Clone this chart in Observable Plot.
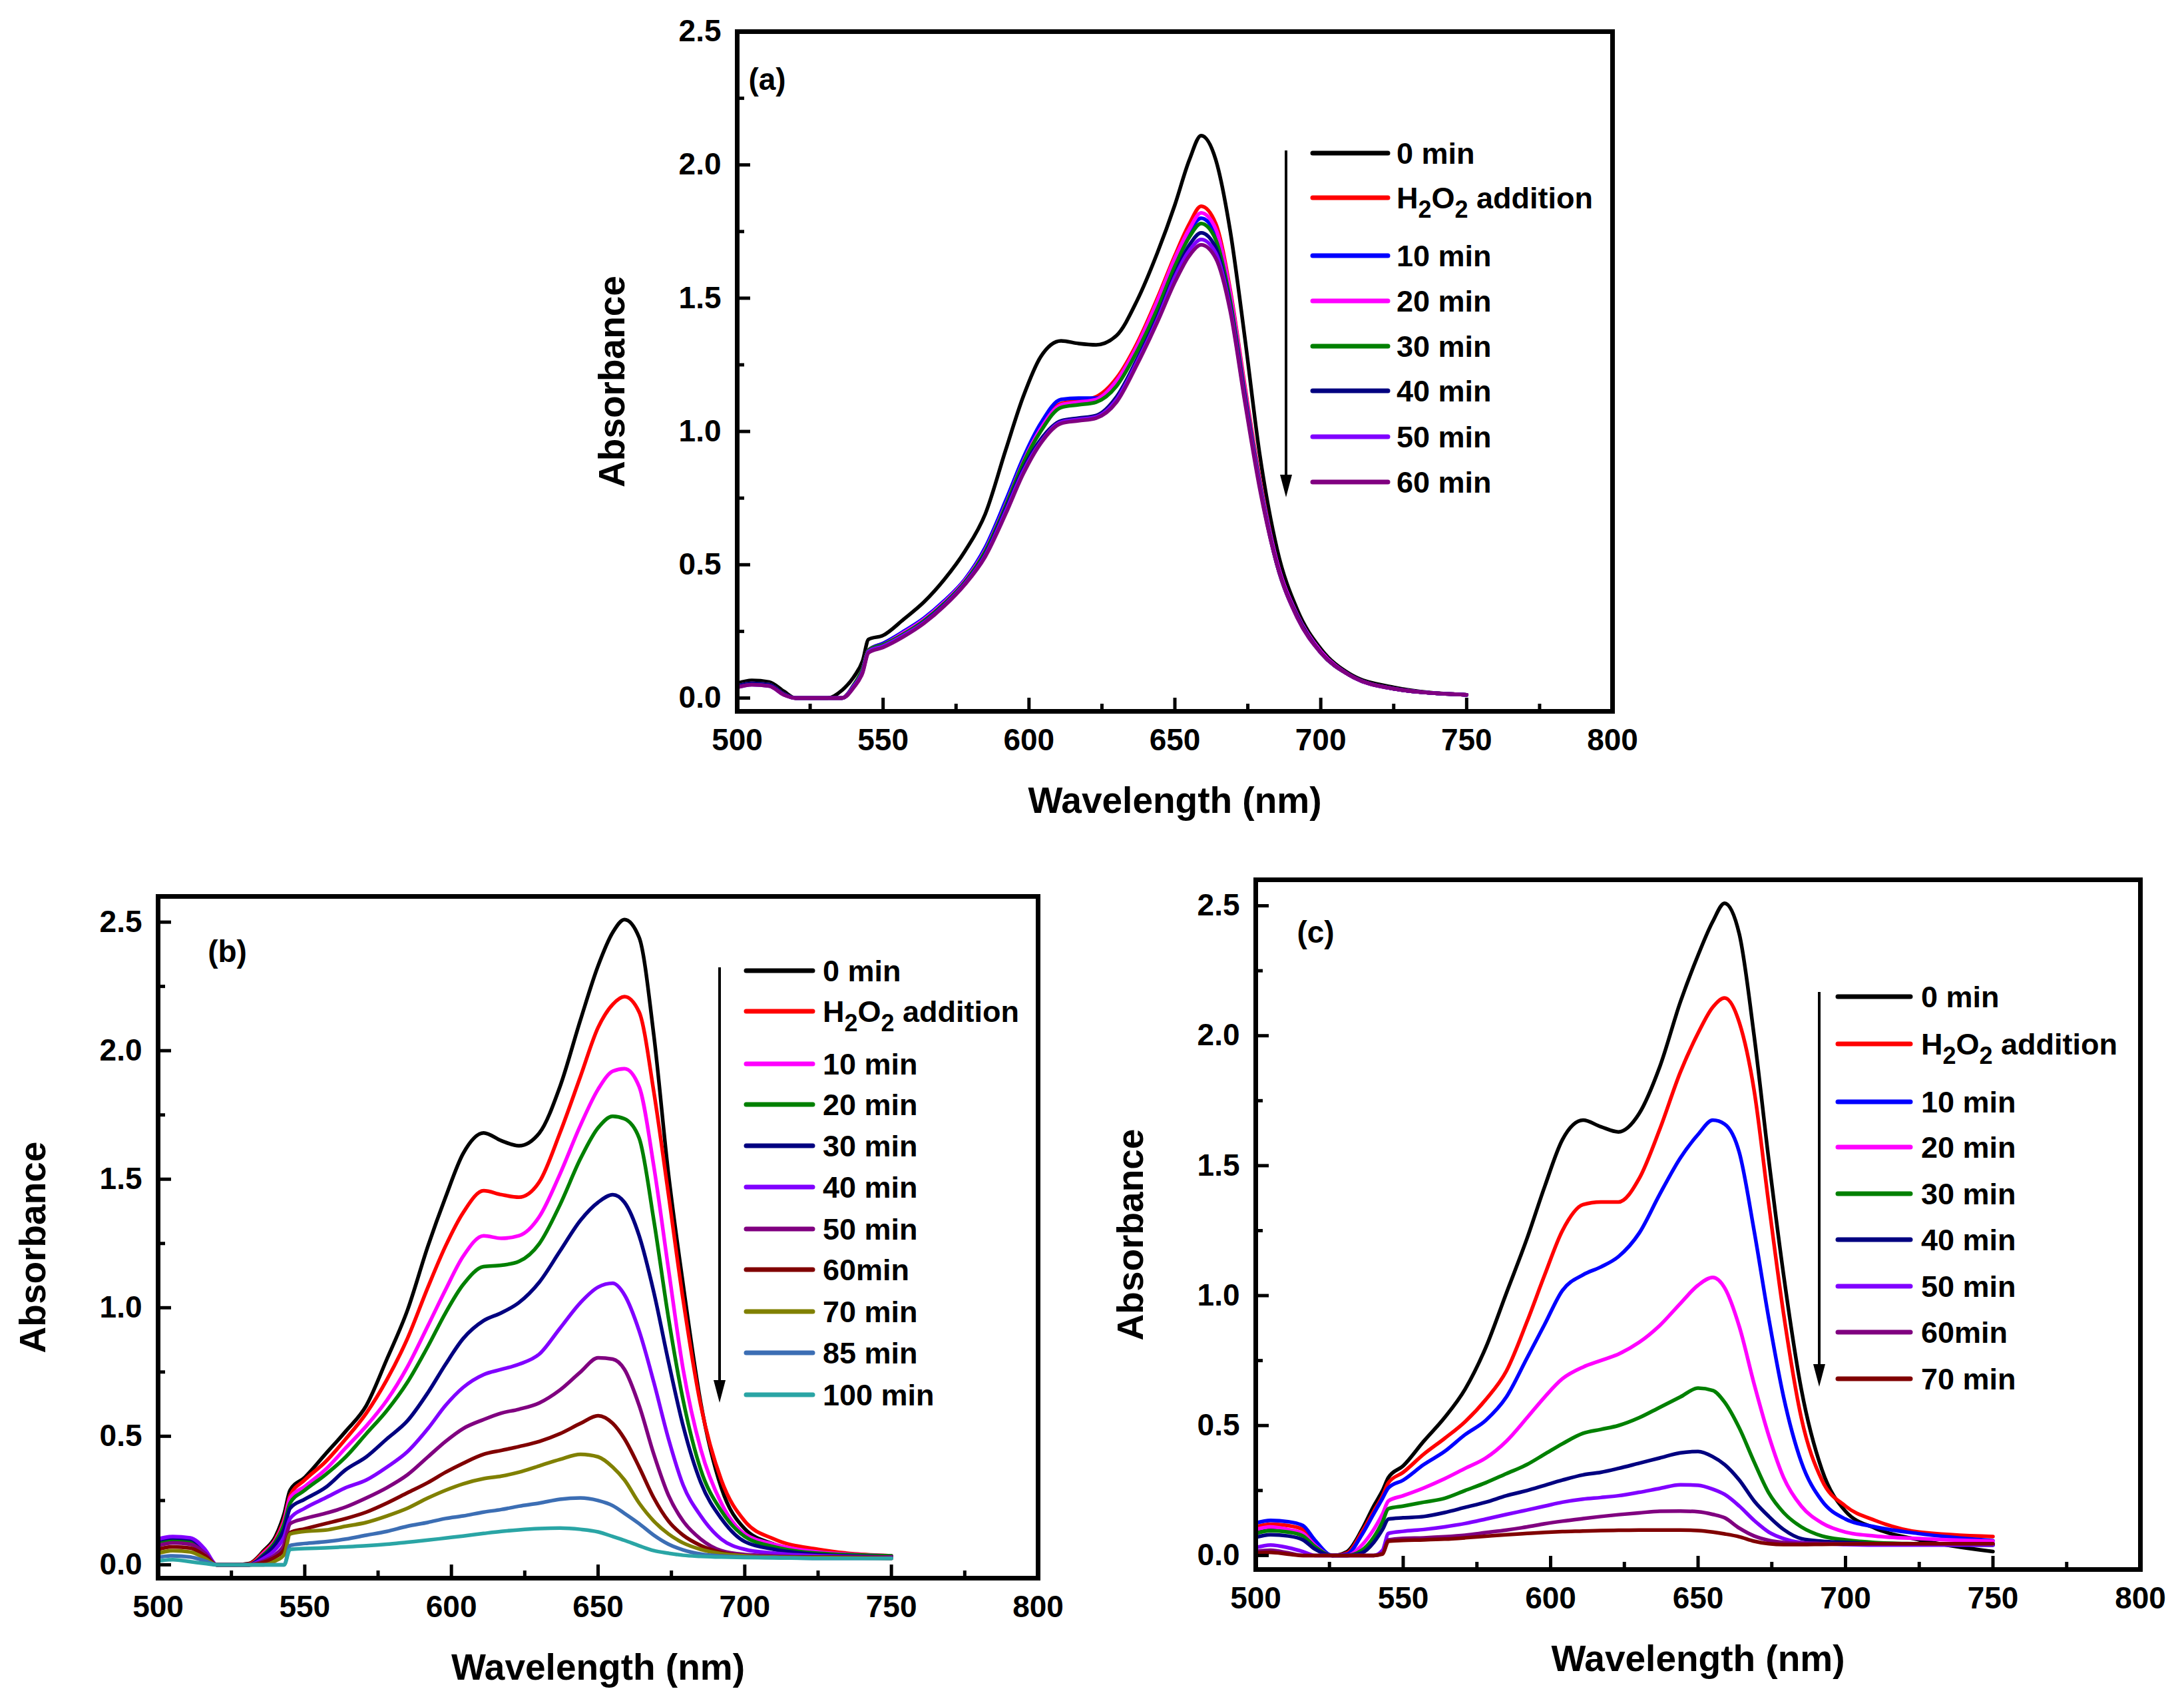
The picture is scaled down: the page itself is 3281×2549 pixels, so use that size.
<!DOCTYPE html>
<html>
<head>
<meta charset="utf-8">
<script src="https://cdn.jsdelivr.net/npm/d3@7"></script>
<script src="https://cdn.jsdelivr.net/npm/@observablehq/plot@0.6"></script>
<style>
html, body { margin: 0; padding: 0; background: #fff; }
#fig { position: relative; width: 3281px; height: 2549px; background: #fff; overflow: hidden; }
</style>
</head>
<body>
<div id="fig"></div>
<script>
// ---------- data ----------
const wavelength = [500, 505, 511, 516, 520, 526, 531, 536, 540, 543, 545, 550, 557, 564, 571, 578, 585, 592, 598, 604, 611, 617, 623, 630, 637, 644, 650, 655, 659, 664, 669, 674, 679, 685, 692, 700, 710, 725, 750];

const xTicks = [500, 550, 600, 650, 700, 750, 800];
const xMinorTicks = [525, 575, 625, 675, 725, 775];
const yTicks = [0, 0.5, 1.0, 1.5, 2.0, 2.5];
const yMinorTicks = [0.25, 0.75, 1.25, 1.75, 2.25];

// panel (a)
const namesA = ["0 min", "H2O2 addition", "10 min", "20 min", "30 min", "40 min", "50 min", "60 min"];
const colorsA = ["#000000", "#ff0000", "#0000ff", "#ff00ff", "#008000", "#000080", "#8000ff", "#800080"];
const a0     = [0.055, 0.066, 0.06, 0.025, 0, 0, 0, 0.03, 0.08, 0.14, 0.22, 0.235, 0.295, 0.36, 0.445, 0.55, 0.69, 0.93, 1.13, 1.28, 1.34, 1.33, 1.325, 1.36, 1.49, 1.67, 1.85, 2.02, 2.11, 2.02, 1.75, 1.35, 0.92, 0.56, 0.33, 0.185, 0.09, 0.04, 0.012];
const aH2O2  = [0.045, 0.055, 0.05, 0.015, 0, 0, 0, 0, 0.05, 0.11, 0.18, 0.205, 0.245, 0.295, 0.36, 0.44, 0.56, 0.73, 0.89, 1.02, 1.105, 1.115, 1.13, 1.2, 1.33, 1.5, 1.66, 1.78, 1.845, 1.78, 1.53, 1.17, 0.83, 0.51, 0.31, 0.175, 0.085, 0.035, 0.012];
const a10    = [0.045, 0.055, 0.05, 0.015, 0, 0, 0, 0, 0.05, 0.11, 0.18, 0.205, 0.25, 0.3, 0.365, 0.445, 0.565, 0.74, 0.9, 1.03, 1.12, 1.125, 1.125, 1.19, 1.31, 1.48, 1.64, 1.75, 1.8, 1.74, 1.5, 1.15, 0.82, 0.51, 0.31, 0.175, 0.085, 0.035, 0.012];
const a20    = [0.045, 0.055, 0.05, 0.015, 0, 0, 0, 0, 0.05, 0.11, 0.18, 0.2, 0.245, 0.295, 0.36, 0.44, 0.555, 0.725, 0.885, 1.01, 1.1, 1.11, 1.12, 1.19, 1.32, 1.49, 1.65, 1.76, 1.82, 1.76, 1.52, 1.16, 0.82, 0.51, 0.31, 0.175, 0.085, 0.035, 0.012];
const a30    = [0.045, 0.055, 0.05, 0.015, 0, 0, 0, 0, 0.05, 0.11, 0.18, 0.2, 0.24, 0.29, 0.355, 0.435, 0.55, 0.72, 0.88, 1.0, 1.09, 1.1, 1.11, 1.17, 1.3, 1.46, 1.62, 1.73, 1.78, 1.72, 1.49, 1.14, 0.81, 0.5, 0.305, 0.17, 0.085, 0.035, 0.012];
const a40    = [0.045, 0.055, 0.05, 0.015, 0, 0, 0, 0, 0.045, 0.1, 0.175, 0.195, 0.235, 0.285, 0.35, 0.43, 0.54, 0.71, 0.86, 0.97, 1.04, 1.05, 1.06, 1.13, 1.27, 1.43, 1.59, 1.7, 1.745, 1.69, 1.47, 1.13, 0.8, 0.5, 0.305, 0.17, 0.085, 0.035, 0.012];
const a50    = [0.04, 0.05, 0.045, 0.012, 0, 0, 0, 0, 0.045, 0.1, 0.175, 0.195, 0.235, 0.283, 0.348, 0.428, 0.535, 0.7, 0.85, 0.96, 1.035, 1.045, 1.055, 1.12, 1.26, 1.42, 1.58, 1.68, 1.72, 1.67, 1.46, 1.12, 0.8, 0.5, 0.3, 0.17, 0.085, 0.035, 0.012];
const a60    = [0.04, 0.05, 0.045, 0.012, 0, 0, 0, 0, 0.04, 0.095, 0.17, 0.19, 0.23, 0.28, 0.345, 0.425, 0.53, 0.69, 0.84, 0.955, 1.03, 1.04, 1.05, 1.11, 1.25, 1.41, 1.56, 1.66, 1.7, 1.65, 1.45, 1.11, 0.79, 0.5, 0.3, 0.17, 0.085, 0.035, 0.012];

// panel (b)
const namesB = ["0 min", "H2O2 addition", "10 min", "20 min", "30 min", "40 min", "50 min", "60min", "70 min", "85 min", "100 min"];
const colorsB = ["#000000", "#ff0000", "#ff00ff", "#008000", "#000080", "#8000ff", "#800080", "#800000", "#808000", "#3c6eb4", "#2aa5a5"];
const b0     = [0.085, 0.095, 0.09, 0.05, 0, 0, 0.005, 0.055, 0.11, 0.2, 0.29, 0.34, 0.43, 0.52, 0.62, 0.8, 0.99, 1.24, 1.43, 1.6, 1.68, 1.65, 1.63, 1.68, 1.86, 2.12, 2.33, 2.46, 2.51, 2.44, 2.06, 1.52, 1.09, 0.63, 0.3, 0.14, 0.08, 0.045, 0.03];
const bH2O2  = [0.085, 0.095, 0.09, 0.05, 0, 0, 0.003, 0.05, 0.1, 0.18, 0.27, 0.33, 0.4, 0.49, 0.59, 0.72, 0.88, 1.08, 1.24, 1.37, 1.455, 1.44, 1.43, 1.49, 1.68, 1.9, 2.09, 2.18, 2.21, 2.15, 1.84, 1.44, 1.03, 0.62, 0.33, 0.17, 0.1, 0.06, 0.035];
const b10    = [0.09, 0.1, 0.095, 0.055, 0, 0, 0, 0.045, 0.095, 0.17, 0.26, 0.305, 0.37, 0.455, 0.54, 0.64, 0.77, 0.93, 1.07, 1.2, 1.28, 1.27, 1.28, 1.355, 1.52, 1.71, 1.85, 1.92, 1.93, 1.86, 1.55, 1.15, 0.76, 0.45, 0.24, 0.12, 0.08, 0.05, 0.035];
const b20    = [0.085, 0.095, 0.09, 0.05, 0, 0, 0, 0.04, 0.09, 0.16, 0.24, 0.29, 0.35, 0.42, 0.51, 0.6, 0.71, 0.85, 0.98, 1.09, 1.16, 1.165, 1.18, 1.25, 1.4, 1.58, 1.7, 1.745, 1.735, 1.66, 1.34, 0.96, 0.64, 0.37, 0.21, 0.11, 0.07, 0.045, 0.035];
const b30    = [0.095, 0.105, 0.1, 0.055, 0, 0, 0, 0.035, 0.08, 0.14, 0.22, 0.255, 0.3, 0.37, 0.42, 0.49, 0.56, 0.67, 0.78, 0.88, 0.95, 0.98, 1.02, 1.1, 1.22, 1.34, 1.41, 1.44, 1.41, 1.28, 1.06, 0.79, 0.54, 0.32, 0.18, 0.09, 0.06, 0.04, 0.03];
const b40    = [0.1, 0.11, 0.105, 0.06, 0, 0, 0, 0.025, 0.06, 0.11, 0.18, 0.22, 0.26, 0.3, 0.33, 0.38, 0.44, 0.53, 0.62, 0.69, 0.74, 0.76, 0.78, 0.82, 0.92, 1.02, 1.08, 1.095, 1.05, 0.91, 0.71, 0.49, 0.31, 0.19, 0.1, 0.06, 0.045, 0.035, 0.03];
const b50    = [0.075, 0.085, 0.08, 0.045, 0, 0, 0, 0.015, 0.04, 0.08, 0.16, 0.18, 0.2, 0.225, 0.26, 0.3, 0.35, 0.42, 0.48, 0.53, 0.565, 0.59, 0.605, 0.63, 0.68, 0.75, 0.805, 0.8, 0.76, 0.62, 0.43, 0.27, 0.17, 0.1, 0.055, 0.04, 0.035, 0.03, 0.03];
const b60    = [0.06, 0.07, 0.065, 0.035, 0, 0, 0, 0.01, 0.03, 0.06, 0.125, 0.14, 0.16, 0.18, 0.205, 0.24, 0.28, 0.32, 0.36, 0.395, 0.43, 0.445, 0.46, 0.48, 0.51, 0.55, 0.58, 0.55, 0.49, 0.38, 0.26, 0.17, 0.115, 0.075, 0.048, 0.035, 0.03, 0.03, 0.025];
const b70    = [0.045, 0.055, 0.05, 0.025, 0, 0, 0, 0, 0.015, 0.04, 0.12, 0.13, 0.135, 0.15, 0.165, 0.19, 0.22, 0.26, 0.29, 0.315, 0.335, 0.345, 0.36, 0.385, 0.41, 0.43, 0.42, 0.38, 0.33, 0.24, 0.17, 0.12, 0.085, 0.06, 0.043, 0.035, 0.03, 0.028, 0.025];
const b85    = [0.03, 0.035, 0.03, 0.015, 0, 0, 0, 0, 0, 0, 0.075, 0.083, 0.09, 0.1, 0.115, 0.13, 0.15, 0.165, 0.18, 0.19, 0.205, 0.215, 0.228, 0.24, 0.255, 0.26, 0.25, 0.23, 0.2, 0.16, 0.115, 0.08, 0.058, 0.042, 0.034, 0.03, 0.028, 0.025, 0.025];
const b100   = [0.015, 0.02, 0.012, 0.005, 0, 0, 0, 0, 0, 0, 0.06, 0.063, 0.066, 0.07, 0.074, 0.08, 0.088, 0.096, 0.104, 0.112, 0.122, 0.13, 0.136, 0.141, 0.143, 0.138, 0.128, 0.11, 0.095, 0.074, 0.055, 0.045, 0.037, 0.033, 0.03, 0.028, 0.027, 0.025, 0.025];

// panel (c)
const namesC = ["0 min", "H2O2 addition", "10 min", "20 min", "30 min", "40 min", "50 min", "60min", "70 min"];
const colorsC = ["#000000", "#ff0000", "#0000ff", "#ff00ff", "#008000", "#000080", "#8000ff", "#800080", "#800000"];
const c0     = [0.09, 0.1, 0.095, 0.08, 0.04, 0, 0.015, 0.1, 0.19, 0.25, 0.3, 0.345, 0.44, 0.53, 0.64, 0.8, 1.01, 1.22, 1.42, 1.6, 1.675, 1.65, 1.63, 1.7, 1.88, 2.13, 2.31, 2.44, 2.51, 2.39, 2.0, 1.52, 1.08, 0.64, 0.33, 0.17, 0.105, 0.06, 0.015];
const cH2O2  = [0.11, 0.12, 0.115, 0.1, 0.05, 0, 0.01, 0.09, 0.17, 0.23, 0.28, 0.32, 0.39, 0.45, 0.515, 0.6, 0.71, 0.9, 1.08, 1.25, 1.35, 1.36, 1.36, 1.45, 1.64, 1.86, 2.01, 2.11, 2.145, 2.05, 1.79, 1.35, 0.93, 0.53, 0.29, 0.19, 0.135, 0.09, 0.073];
const c10    = [0.125, 0.135, 0.13, 0.115, 0.06, 0, 0.005, 0.08, 0.16, 0.22, 0.26, 0.29, 0.35, 0.4, 0.465, 0.52, 0.61, 0.76, 0.89, 1.02, 1.08, 1.11, 1.15, 1.24, 1.39, 1.53, 1.62, 1.675, 1.66, 1.55, 1.25, 0.91, 0.61, 0.36, 0.21, 0.14, 0.11, 0.084, 0.057];
const c20    = [0.1, 0.11, 0.1, 0.085, 0.04, 0, 0, 0.04, 0.1, 0.16, 0.21, 0.23, 0.26, 0.295, 0.335, 0.375, 0.44, 0.53, 0.61, 0.68, 0.725, 0.75, 0.775, 0.82, 0.885, 0.97, 1.04, 1.07, 1.03, 0.88, 0.66, 0.46, 0.3, 0.19, 0.125, 0.09, 0.075, 0.065, 0.055];
const c30    = [0.085, 0.095, 0.09, 0.075, 0.035, 0, 0, 0.02, 0.07, 0.13, 0.18, 0.19, 0.205, 0.22, 0.25, 0.28, 0.315, 0.35, 0.39, 0.43, 0.47, 0.485, 0.5, 0.53, 0.57, 0.61, 0.644, 0.635, 0.59, 0.49, 0.36, 0.24, 0.165, 0.11, 0.075, 0.06, 0.05, 0.045, 0.04];
const c40    = [0.07, 0.08, 0.075, 0.06, 0.025, 0, 0, 0.01, 0.05, 0.1, 0.14, 0.145, 0.15, 0.165, 0.185, 0.205, 0.23, 0.25, 0.27, 0.29, 0.31, 0.32, 0.335, 0.355, 0.375, 0.395, 0.4, 0.38, 0.35, 0.29, 0.21, 0.15, 0.1, 0.065, 0.055, 0.05, 0.045, 0.042, 0.04];
const c50    = [0.03, 0.04, 0.03, 0.015, 0, 0, 0, 0, 0, 0.02, 0.085, 0.093, 0.1, 0.11, 0.123, 0.14, 0.158, 0.175, 0.19, 0.205, 0.217, 0.223, 0.23, 0.243, 0.258, 0.272, 0.27, 0.255, 0.235, 0.19, 0.135, 0.09, 0.065, 0.05, 0.045, 0.042, 0.04, 0.04, 0.04];
const c60    = [0.015, 0.02, 0.01, 0, 0, 0, 0, 0, 0, 0.01, 0.06, 0.066, 0.068, 0.072, 0.078, 0.088, 0.098, 0.11, 0.122, 0.132, 0.142, 0.15, 0.157, 0.164, 0.17, 0.171, 0.168, 0.158, 0.145, 0.105, 0.075, 0.058, 0.05, 0.047, 0.046, 0.045, 0.045, 0.045, 0.045];
const c70    = [0.01, 0.012, 0.005, 0, 0, 0, 0, 0, 0, 0.005, 0.055, 0.058, 0.06, 0.063, 0.068, 0.074, 0.08, 0.085, 0.089, 0.092, 0.094, 0.096, 0.097, 0.098, 0.098, 0.098, 0.096, 0.09, 0.083, 0.072, 0.055, 0.045, 0.042, 0.042, 0.043, 0.044, 0.045, 0.045, 0.045];

const xTitle = "Wavelength (nm)";
const yTitle = "Absorbance";

// ---------- layout ----------
const FONT = '"Liberation Sans", Arial, Helvetica, sans-serif';
const fig = document.getElementById("fig");

function makePanel(cfg) {
  const mL = 260, mR = 40, mT = 40, mB = 220;
  const f = cfg.frame;
  const fw = f.r - f.l, fh = f.b - f.t;
  const rows = [];
  cfg.series.forEach((vals, i) => vals.forEach((v, j) => rows.push({wl: wavelength[j], A: v, s: cfg.names[i]})));
  const svg = Plot.plot({
    width: fw + mL + mR,
    height: fh + mT + mB,
    marginLeft: mL, marginRight: mR, marginTop: mT, marginBottom: mB,
    style: {fontFamily: FONT, fontWeight: "bold", fontSize: "46px", background: "transparent", overflow: "visible", color: "#000"},
    x: {domain: [500, 800]},
    y: {domain: cfg.yDomain},
    color: {domain: cfg.names, range: cfg.colors},
    marks: [
      Plot.line(rows, {x: "wl", y: "A", z: "s", stroke: "s", strokeWidth: 5.5, curve: "monotone-x", strokeLinejoin: "round"}),
      Plot.ruleX(xTicks, {x: d => d, insetTop: fh - 20, strokeWidth: 5}),
      Plot.ruleX(xMinorTicks, {x: d => d, insetTop: fh - 11, strokeWidth: 5}),
      Plot.ruleY(yTicks, {y: d => d, insetRight: fw - 20, strokeWidth: 5}),
      Plot.ruleY(yMinorTicks, {y: d => d, insetRight: fw - 11, strokeWidth: 5}),
      Plot.axisX({ticks: xTicks, tickSize: 0, tickPadding: 26, tickFormat: d => String(d), label: null, fontSize: 46}),
      Plot.axisY({ticks: yTicks, tickSize: 0, tickPadding: 24, tickFormat: d3.format(".1f"), label: null, fontSize: 46}),
      Plot.frame({strokeWidth: 7}),
      Plot.text([xTitle], {text: d => d, frameAnchor: "bottom", dy: 152, fontSize: 55, fontWeight: "bold", textAnchor: "middle"}),
      Plot.text([yTitle], {text: d => d, frameAnchor: "left", dx: -187, dy: 15, rotate: -90, fontSize: 55, fontWeight: "bold", textAnchor: "middle"}),
      Plot.text([cfg.tag], {text: d => d, frameAnchor: "top-left", dx: cfg.tagDx, dy: cfg.tagDy, fontSize: 46, fontWeight: "bold", textAnchor: "middle"})
    ]
  });
  svg.style.position = "absolute";
  svg.style.left = (f.l - mL) + "px";
  svg.style.top = (f.t - mT) + "px";
  svg.style.maxWidth = "none";
  fig.appendChild(svg);
}

makePanel({series: [a0, aH2O2, a10, a20, a30, a40, a50, a60], names: namesA, colors: colorsA,
  yDomain: [-0.05, 2.5], frame: {l: 1107, r: 2422, t: 47, b: 1068}, tag: "(a)", tagDx: 45, tagDy: 55});
makePanel({series: [b0, bH2O2, b10, b20, b30, b40, b50, b60, b70, b85, b100], names: namesB, colors: colorsB,
  yDomain: [-0.052, 2.6], frame: {l: 237, r: 1559, t: 1346, b: 2370}, tag: "(b)", tagDx: 104, tagDy: 66});
makePanel({series: [c0, cH2O2, c10, c20, c30, c40, c50, c60, c70], names: namesC, colors: colorsC,
  yDomain: [-0.054, 2.6], frame: {l: 1886, r: 3215, t: 1321, b: 2357}, tag: "(c)", tagDx: 90, tagDy: 62});

// ---------- legends (overlay) ----------
const ov = d3.select(fig).append("svg")
  .attr("width", 3281).attr("height", 2549)
  .style("position", "absolute").style("left", "0px").style("top", "0px")
  .style("font-family", FONT).style("font-weight", "bold");

function legend(L) {
  const g = ov.append("g");
  g.append("line").attr("x1", L.arrowX).attr("x2", L.arrowX).attr("y1", L.arrowTop).attr("y2", L.arrowTip - 20)
    .attr("stroke", "#000").attr("stroke-width", 4);
  g.append("path").attr("d", `M${L.arrowX - 9},${L.arrowTip - 34}L${L.arrowX + 9},${L.arrowTip - 34}L${L.arrowX},${L.arrowTip}Z`).attr("fill", "#000");
  L.names.forEach((name, i) => {
    const y = L.rows[i];
    g.append("line").attr("x1", L.x1).attr("x2", L.x2).attr("y1", y).attr("y2", y)
      .attr("stroke", L.colors[i]).attr("stroke-width", 7).attr("stroke-linecap", "round");
    const t = g.append("text").attr("x", L.tx).attr("y", y + 0.36 * L.fs).attr("font-size", L.fs).attr("fill", "#000");
    if (name === "H2O2 addition") {
      t.append("tspan").text("H");
      t.append("tspan").attr("font-size", L.fs * 0.8).attr("dy", 14).text("2");
      t.append("tspan").attr("dy", -14).text("O");
      t.append("tspan").attr("font-size", L.fs * 0.8).attr("dy", 14).text("2");
      t.append("tspan").attr("dy", -14).text(" addition");
    } else {
      t.text(name);
    }
  });
}

legend({names: namesA, colors: colorsA, arrowX: 1932, arrowTop: 226, arrowTip: 747, x1: 1972, x2: 2085, tx: 2098, fs: 45,
  rows: [230, 297, 384, 452, 520, 587, 656, 724]});
legend({names: namesB, colors: colorsB, arrowX: 1081, arrowTop: 1453, arrowTip: 2107, x1: 1121, x2: 1221, tx: 1236, fs: 45,
  rows: [1458, 1519, 1598, 1659, 1721, 1783, 1846, 1907, 1970, 2032, 2095]});
legend({names: namesC, colors: colorsC, arrowX: 2733, arrowTop: 1490, arrowTip: 2083, x1: 2761, x2: 2870, tx: 2886, fs: 45,
  rows: [1497, 1568, 1655, 1723, 1793, 1862, 1932, 2001, 2071]});
</script>
</body>
</html>
